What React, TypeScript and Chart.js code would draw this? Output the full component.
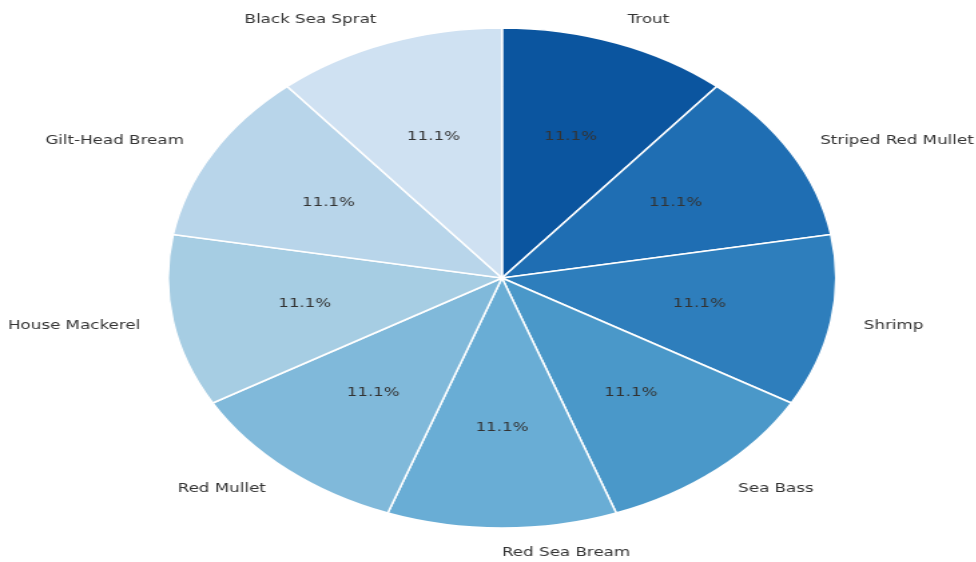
import React, { useEffect, useRef } from "react";
import { Chart, registerables } from "chart.js";

Chart.register(...registerables);

const categories = [
  "Trout",
  "Striped Red Mullet",
  "Shrimp",
  "Sea Bass",
  "Red Sea Bream",
  "Red Mullet",
  "House Mackerel",
  "Gilt-Head Bream",
  "Black Sea Sprat",
];
const values = [1, 1, 1, 1, 1, 1, 1, 1, 1];
const colors = [
  "#0b559f",
  "#1f6eb3",
  "#2e7ebc",
  "#4a98c9",
  "#69add5",
  "#80b9da",
  "#a6cde3",
  "#b8d5ea",
  "#cfe1f2",
];

const SX = 1.336;
const CW = Math.round(976 / SX);
const CH = 562;

const labelPlugin = {
  id: "pieLabels",
  afterDatasetsDraw(chart: any) {
    const ctx = chart.ctx;
    const meta = chart.getDatasetMeta(0);
    const data = chart.data.datasets[0].data as number[];
    const total = data.reduce((a, b) => a + b, 0);
    ctx.save();
    ctx.font = '12.5px "DejaVu Sans"';
    ctx.fillStyle = "#333333";
    ctx.textBaseline = "middle";
    meta.data.forEach((arc: any, i: number) => {
      const { x, y, startAngle, endAngle, outerRadius } = arc.getProps(
        ["x", "y", "startAngle", "endAngle", "outerRadius"],
        true
      );
      const mid = (startAngle + endAngle) / 2;
      const c = Math.cos(mid);
      const s = Math.sin(mid);
      ctx.textAlign = "center";
      const pct = ((data[i] / total) * 100).toFixed(1) + "%";
      ctx.fillText(pct, x + c * outerRadius * 0.6, y + s * outerRadius * 0.6);
      ctx.textAlign = c > 0 ? "left" : "right";
      ctx.fillText(
        chart.data.labels[i],
        x + c * outerRadius * 1.1,
        y + s * outerRadius * 1.1
      );
    });
    ctx.restore();
  },
};

export default function App() {
  const ref = useRef<HTMLCanvasElement>(null);
  useEffect(() => {
    if (!ref.current) return;
    const cx = 502 / SX;
    const r = 250.75;
    const chart = new Chart(ref.current, {
      type: "pie",
      data: {
        labels: categories,
        datasets: [
          {
            data: values,
            backgroundColor: colors,
            borderColor: "#ffffff",
            borderWidth: 1.5,
          },
        ],
      },
      options: {
        responsive: false,
        animation: false,
        devicePixelRatio: 1,
        layout: {
          padding: {
            left: cx - r,
            right: CW - (cx + r),
            top: 278 - r,
            bottom: CH - (278 + r),
          },
        },
        plugins: {
          legend: { display: false },
          tooltip: { enabled: false },
        },
      },
      plugins: [labelPlugin],
    });
    return () => chart.destroy();
  }, []);
  return (
    <div
      style={{
        position: "absolute",
        left: 0,
        top: 0,
        width: 976,
        height: 562,
        overflow: "hidden",
        background: "#ffffff",
      }}
    >
      <canvas
        ref={ref}
        width={CW}
        height={CH}
        style={{
          transform: `scaleX(${SX})`,
          transformOrigin: "0 0",
          display: "block",
        }}
      />
    </div>
  );
}
